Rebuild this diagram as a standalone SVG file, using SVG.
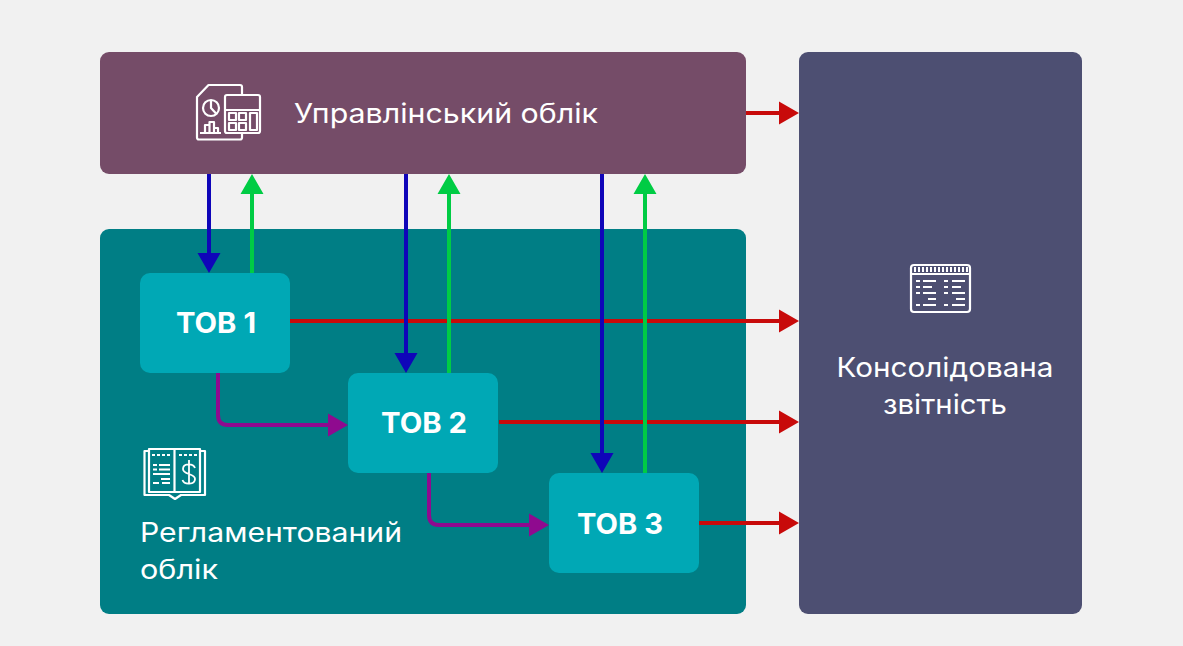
<svg xmlns="http://www.w3.org/2000/svg" width="1183" height="646" viewBox="0 0 1183 646">
<style>
text{font-family:Inter,"Open Sans","Liberation Sans",sans-serif;fill:#fff}
.l{font-size:27px;font-weight:400}
.t{font-size:28px;font-weight:700}
.i{fill:none;stroke:#fff;stroke-width:2.200;stroke-linejoin:round}
.d{fill:none;stroke:#fff;stroke-width:2}
.c{fill:none;stroke-width:4}
.r{stroke:#c80a0a}.b{stroke:#0f05b9}.g{stroke:#00cc44}.p{stroke:#8f0a8f;stroke-linejoin:round}
.box{fill:#00a8b5}
</style>
<rect width="1183" height="646" fill="#f1f1f1"/>
<g id="upravlinskyi">
<rect x="100" y="52" width="646" height="122" rx="9" fill="#754c68"/>
<path class="i" d="M225 139.500H199Q197 139.500 197 137.500V97L208.500 85H240Q242 85 242 87V95M242 133V137.500Q242 139.500 240 139.500H225"/>
<circle class="i" cx="211" cy="108" r="8"/><path class="i" d="M211 100V108L216.500 114"/>
<path class="i" d="M200 133H221M205 133V125H209.500V133M209.500 133V122H214V133M214 133V128H218V133"/>
<rect class="i" x="225" y="95" width="35" height="38" rx="2"/><path class="i" d="M225 110H260"/>
<path class="i" d="M229 113h7v7h-7zM239 113h7v7h-7zM229 123h7v7h-7zM239 123h7v7h-7zM250 113h7v17h-7z"/>
<text class="l" x="294" y="123" textLength="304" lengthAdjust="spacingAndGlyphs">Управлінський облік</text>
</g>
<g id="konsolidovana">
<rect x="799" y="52" width="283" height="562" rx="9" fill="#4d4f72"/>
<rect class="i" x="911" y="265" width="59" height="47" rx="3"/><path class="i" d="M911 274H970"/>
<path d="M914 269.500H968" stroke="#fff" stroke-width="5" stroke-dasharray="2 2" fill="none"/>
<path class="d" d="M916 281h4M923 281h13M916 287h4M923 287h9M916 293h4M923 293h13M928 299h8M916 305h4M923 305h13M944 281h4M952 281h13M944 287h4M952 287h9M944 293h4M952 293h13M956 299h9M944 305h4M952 305h13"/>
<text class="l" x="945" y="377" text-anchor="middle" textLength="217" lengthAdjust="spacingAndGlyphs">Консолідована</text>
<text class="l" x="945" y="414" text-anchor="middle" textLength="124" lengthAdjust="spacingAndGlyphs">звітність</text>
</g>
<g id="rehlamentovanyi">
<rect x="100" y="229" width="646" height="385" rx="9" fill="#007e85"/>
<path class="i" d="M149 449H174.500V492H149ZM174.500 449H200V492H174.500M149 451H144.500V495H169L175 499L181 495H205V451H200"/>
<path class="d" stroke-dasharray="3 2" d="M152 455H171M179 455H199"/>
<path class="d" d="M153 465h4M159 465h11M153 469.500h4M159 469.500h11M153 474h17M161 479h9M153 483h6M162 483h8"/>
<path d="M195 468C193 463 183 463 183 469C183 475 195 473 195 479C195 485 184 485 182.500 480M189 460V484" fill="none" stroke="#fff" stroke-width="1.800"/>
<text class="l" x="140" y="542" textLength="262" lengthAdjust="spacingAndGlyphs">Регламентований</text>
<text class="l" x="140" y="579" textLength="78" lengthAdjust="spacingAndGlyphs">облік</text>
</g>
<g id="tov1"><rect class="box" x="140" y="273" width="150" height="100" rx="10"/><text class="t" x="176" y="333" textLength="80" lengthAdjust="spacingAndGlyphs">ТОВ 1</text></g>
<g id="tov2"><rect class="box" x="348" y="373" width="150" height="100" rx="10"/><text class="t" x="381" y="433" textLength="86" lengthAdjust="spacingAndGlyphs">ТОВ 2</text></g>
<g id="tov3"><rect class="box" x="549" y="473" width="150" height="100" rx="10"/><text class="t" x="577" y="534" textLength="86" lengthAdjust="spacingAndGlyphs">ТОВ 3</text></g>
<g id="connectors">
<path class="c r" d="M746 113H780M290 321H780M499 422H780M699 523H780"/>
<path fill="#c80a0a" d="M779 101.500L799 113L779 124.500zM779 309.500L799 321L779 332.500zM779 410.500L799 422L779 433.500zM779 511.500L799 523L779 534.500z"/>
<path class="c b" d="M209 174V254M406 174V354M602 174V454"/>
<path fill="#0f05b9" d="M197.500 253H220.500L209 273zM394.500 353H417.500L406 373zM590.500 453H613.500L602 473z"/>
<path class="c g" d="M252 193V273M449 193V373M645 193V473"/>
<path fill="#00cc44" d="M240.500 194H263.500L252 174zM437.500 194H460.500L449 174zM633.500 194H656.500L645 174z"/>
<path class="c p" d="M218 373V415Q218 425 228 425H330M429 473V515Q429 525 439 525H530"/>
<path fill="#8f0a8f" d="M328 413.500L348 425L328 436.500zM529 513.500L549 525L529 536.500z"/>
</g>
</svg>
